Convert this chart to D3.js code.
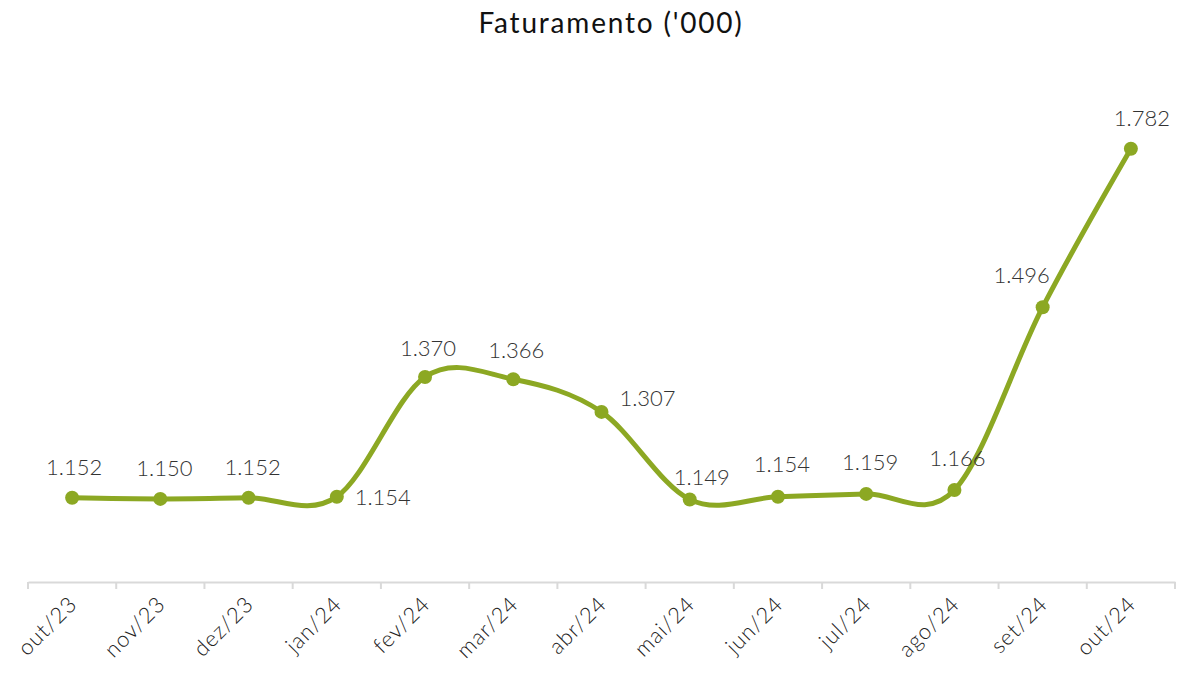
<!DOCTYPE html>
<html>
<head>
<meta charset="utf-8">
<script src="https://cdn.jsdelivr.net/npm/d3@7"></script>
<style>
  body { margin: 0; background: #fff; }
  text { font-family: "Lato", "Noto Sans", sans-serif; }
</style>
</head>
<body>
<svg width="1186" height="675"></svg>
<script>
// Data
const months = ["out/23", "nov/23", "dez/23", "jan/24", "fev/24", "mar/24", "abr/24",
                "mai/24", "jun/24", "jul/24", "ago/24", "set/24", "out/24"];
const revenue = [1152, 1150, 1152, 1154, 1370, 1366, 1307, 1149, 1154, 1159, 1166, 1496, 1782];
// label offsets relative to each point (dx, dy of text baseline center)
const labelDx = [2, 4, 4, 46, 3, 3, 46, 12, 4, 4, 3, -21, 11];
const labelDy = [-23, -23, -23, 8, -21, -21, -6, -14, -25, -24, -24, -24, -23];

const fmt = v => d3.format(",")(v).replace(/,/g, ".");

const svg = d3.select("svg");
const green = "#8CA823";

// Scales
const x = d3.scaleBand().domain(months).range([28, 1175]);
const y = d3.scaleLinear().domain([1000, 2000]).range([582, 28]);

// Title
svg.append("text")
    .attr("x", 611)
    .attr("y", 33)
    .attr("text-anchor", "middle")
    .attr("font-size", 28)
    .attr("letter-spacing", 1.8)
    .attr("fill", "#111")
    .text("Faturamento ('000)");

// X axis
const xaxis = d3.axisBottom(x).tickSize(0).tickPadding(0);
const gx = svg.append("g").attr("transform", "translate(0, 582)").call(xaxis);
gx.select(".domain").attr("stroke", "#d9d9d9").attr("stroke-width", 2);
gx.selectAll(".tick text")
    .attr("font-size", 22)
    .attr("font-weight", 300)
    .attr("letter-spacing", 1)
    .attr("fill", "#222")
    .attr("text-anchor", "end")
    .attr("dy", "0.35em")
    .attr("transform", "translate(1, 18) rotate(-45)");

// boundary ticks
const edges = months.map(m => x(m)).concat([x.range()[1]]);
svg.append("g")
    .selectAll("line")
    .data(edges)
    .enter().append("line")
    .attr("x1", d => d).attr("x2", d => d)
    .attr("y1", 582).attr("y2", 589)
    .attr("stroke", "#d9d9d9")
    .attr("stroke-width", 2);

const cx = i => x(months[i]) + x.bandwidth() / 2;

// Line
const line = d3.line()
    .x((d, i) => cx(i))
    .y(d => y(d))
    .curve(d3.curveCardinal.tension(0));

svg.append("path")
    .datum(revenue)
    .attr("d", line)
    .attr("fill", "none")
    .attr("stroke", green)
    .attr("stroke-width", 5)
    .attr("stroke-linecap", "round");

// Markers
svg.append("g")
    .selectAll("circle")
    .data(revenue)
    .enter().append("circle")
    .attr("cx", (d, i) => cx(i))
    .attr("cy", d => y(d))
    .attr("r", 7)
    .attr("fill", green);

// Data labels
svg.append("g")
    .selectAll("text")
    .data(revenue)
    .enter().append("text")
    .attr("x", (d, i) => cx(i) + labelDx[i])
    .attr("y", (d, i) => y(d) + labelDy[i])
    .attr("text-anchor", "middle")
    .attr("font-size", 22)
    .attr("font-weight", 300)
    .attr("fill", "#333")
    .text(d => fmt(d));
</script>
</body>
</html>
